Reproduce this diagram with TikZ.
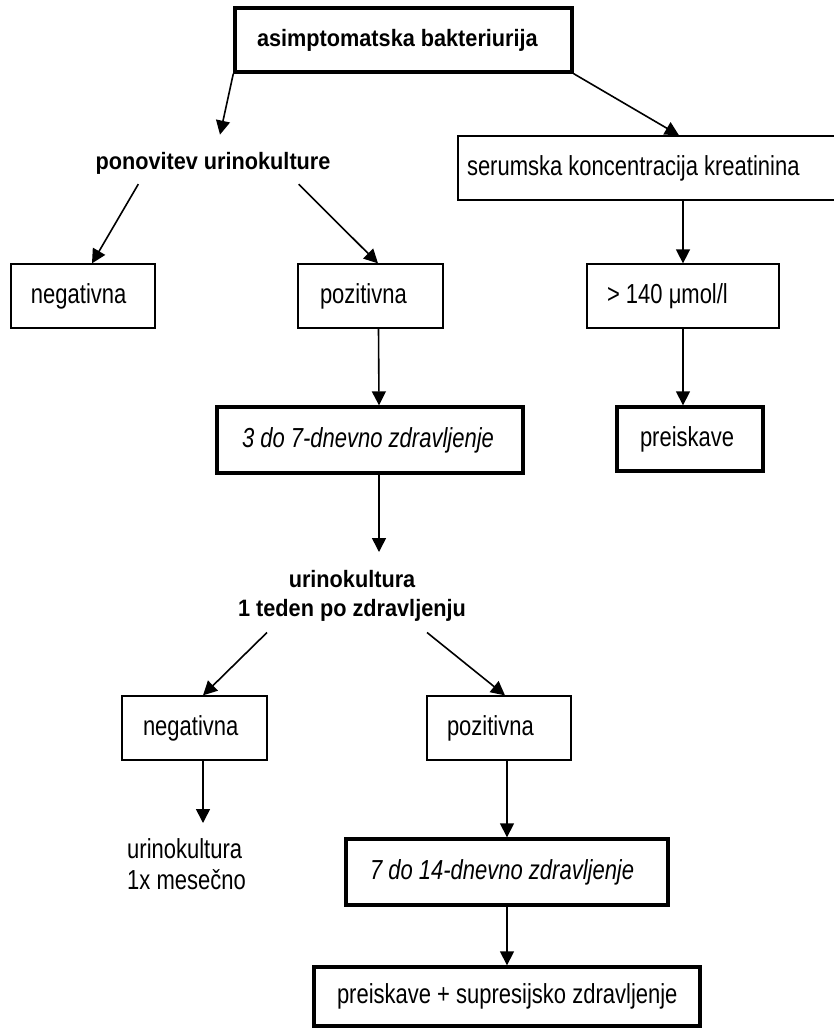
\documentclass[tikz,border=0pt]{standalone}
\usepackage{fontspec}
\setmainfont{Liberation Sans}
\newfontfamily\regf{Liberation Sans}[FakeStretch=0.80]
\newfontfamily\boldf{Liberation Sans}[FakeStretch=0.915]
\usetikzlibrary{arrows.meta,calc}
\newcommand\myfs{\regf\fontsize{27.5}{31}\selectfont}
\newcommand\mybf{\boldf\fontsize{23.7}{29}\selectfont\bfseries}
\tikzset{
  box/.style 2 args={draw, line width=1.3pt, inner xsep=0pt, inner ysep=0pt,
    text width=#1, minimum height=64pt, align=flush left, font=\myfs,
    execute at begin node={\spaceskip=0pt\xspaceskip=0pt\noindent\hspace*{#2}}},
  thickbox/.style={line width=3.4pt},
  lab/.style={inner sep=0pt},
  arr/.style={line width=1.6pt, -{Triangle[length=14pt,width=14pt]}}
}
\begin{document}
\begin{tikzpicture}[x=1pt,y=-1pt]
\fill[white] (0,0) rectangle (833,1028);
\useasboundingbox (0,0) rectangle (833,1028);

% boxes
\node[box={337pt}{22pt}, thickbox, font=\mybf] (top) at (403.5,40) {asimptomatska bakteriurija};
\node[box={382pt}{9pt}] (serum) at (649,168) {serumska koncentracija kreatinina};
\node[box={144pt}{20pt}] (neg1) at (83,296) {negativna};
\node[box={145pt}{22pt}] (pos1) at (370.5,296) {pozitivna};
\node[box={192pt}{20pt}] (gt) at (683,296) {> 140 μmol/l};
\node[box={306pt}{25pt}, thickbox, minimum height=66pt, font=\myfs\itshape] (th1) at (370,440) {3 do 7-dnevno zdravljenje};
\node[box={146pt}{23pt}, thickbox] (prei) at (690,439) {preiskave};
\node[box={145pt}{21pt}] (neg2) at (194.5,728) {negativna};
\node[box={144pt}{20pt}] (pos2) at (499,728) {pozitivna};
\node[box={322pt}{24pt}, thickbox, minimum height=66pt, font=\myfs\itshape] (th2) at (507,872) {7 do 14-dnevno zdravljenje};
\node[box={386pt}{23pt}, thickbox, minimum height=59pt] (fin) at (507,996.5) {preiskave + supresijsko zdravljenje};

% free labels
\node[lab, font=\mybf, anchor=base] (pon) at (213,169) {ponovitev urinokulture};
\node[lab, align=center, font=\mybf, anchor=north] (uk) at (352,570) {urinokultura\\1 teden po zdravljenju};
\node[lab, align=left, font=\myfs, anchor=north west] (mon) at (127,838.3) {urinokultura\\1x mesečno};

% connectors
\draw[arr] (top.south west) -- ($(pon.north)+(7,-17)$);
\draw[arr] (top.south east) -- ($(serum.north)+(30,0)$);
\draw[arr] ($(pon.south west)+(43,10)$) -- ($(neg1.north)+(9,0)$);
\draw[arr] ($(pon.south east)+(-32,10)$) -- ($(pos1.north)+(7.5,0)$);
\draw[arr] (gt.north |- serum.south) -- (gt.north);
\draw[arr] (gt.south) -- (gt.south |- prei.north);
\draw[arr] ($(pos1.south)+(8,0)$) -- ($(th1.north)+(9,0)$);
\draw[arr] ($(th1.south)+(9,0)$) -- ($(uk.north)+(27,-18)$);
\draw[arr] ($(uk.south)+(-85,11)$) -- ($(neg2.north)+(8.5,0)$);
\draw[arr] ($(uk.south)+(75,11)$) -- ($(pos2.north)+(6,0)$);
\draw[arr] ($(neg2.south)+(8.5,0)$) -- ($(mon.north west)+(76,-15.3)$);
\draw[arr] (th2.north |- pos2.south) -- (th2.north);
\draw[arr] (th2.south) -- (fin.north);
\end{tikzpicture}
\end{document}
